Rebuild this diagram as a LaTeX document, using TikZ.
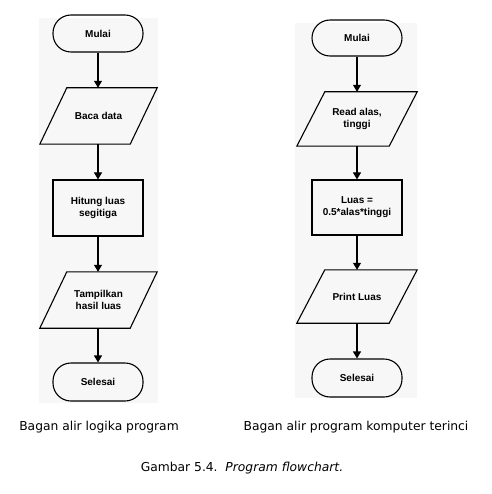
\documentclass[tikz,border=0pt]{standalone}
\usepackage{fontspec}
\setmainfont{Liberation Sans}
\newfontfamily\capfont{DejaVu Sans}
\usetikzlibrary{arrows.meta}
\begin{document}
\begin{tikzpicture}[x=1pt,y=-1pt,
  line/.style={line width=1.1pt},
  arr/.style={line width=1.1pt,-{Triangle[length=7pt,width=8pt]}},
  term/.style={draw,line width=1.1pt,rounded corners=18pt,minimum width=90pt,inner sep=0pt,align=center,font=\fontsize{10}{12}\selectfont\bfseries},
  proc/.style={draw,line width=1.1pt,minimum width=90pt,inner sep=0pt,align=center,font=\fontsize{10}{12}\selectfont\bfseries},
  io/.style={inner sep=0pt,align=center,font=\fontsize{10}{12}\selectfont\bfseries},
  lbl/.style={font=\capfont\fontsize{12.3}{14}\selectfont},
  bg/.style={fill=black!3,draw=none}]
\useasboundingbox (0,0) rectangle (491,494);
% background panels
\fill[bg] (39,18) rectangle (158,403);
\fill[bg] (295,23) rectangle (417,398);
% left flowchart
\node[term,minimum height=37pt] (l1) at (98,33.5) {Mulai};
\node[io,minimum width=117pt,minimum height=56pt] (l2) at (98.5,116) {Baca data};
\node[proc,minimum height=56pt] (l3) at (98,208) {Hitung luas\\segitiga};
\node[io,minimum width=117pt,minimum height=56pt] (l4) at (98.5,300) {Tampilkan\\hasil luas};
\node[term,minimum height=38pt] (l5) at (98,382) {Selesai};
\draw[line] ([xshift=27pt]l2.north west) -- (l2.north east) -- ([xshift=-27pt]l2.south east) -- (l2.south west) -- cycle;
\draw[line] ([xshift=27pt]l4.north west) -- (l4.north east) -- ([xshift=-27pt]l4.south east) -- (l4.south west) -- cycle;
\draw[arr] (l1.south) -- (l2.north -| l1.south);
\draw[arr] (l2.south -| l1.south) -- (l3.north);
\draw[arr] (l3.south) -- (l4.north -| l3.south);
\draw[arr] (l4.south -| l3.south) -- (l5.north);
% right flowchart
\node[term,minimum height=36pt] (r1) at (357,38) {Mulai};
\node[io,minimum width=120pt,minimum height=54pt] (r2) at (357,119) {Read alas,\\tinggi};
\node[proc,minimum height=55pt] (r3) at (357,207.5) {Luas =\\0.5*alas*tinggi};
\node[io,minimum width=120pt,minimum height=53pt] (r4) at (357,296.5) {Print Luas};
\node[term,minimum height=38pt] (r5) at (357,378) {Selesai};
\draw[line] ([xshift=28pt]r2.north west) -- (r2.north east) -- ([xshift=-28pt]r2.south east) -- (r2.south west) -- cycle;
\draw[line] ([xshift=28pt]r4.north west) -- (r4.north east) -- ([xshift=-28pt]r4.south east) -- (r4.south west) -- cycle;
\draw[arr] (r1.south) -- (r2.north -| r1.south);
\draw[arr] (r2.south -| r1.south) -- (r3.north);
\draw[arr] (r3.south) -- (r4.north -| r3.south);
\draw[arr] (r4.south -| r3.south) -- (r5.north);
% labels
\node[lbl] (t1) at (99,427) {Bagan alir logika program};
\node[lbl] (t2) at (356,427) {Bagan alir program komputer terinci};
\node[font=\capfont\fontsize{12.3}{14}\selectfont] (cap) at (242,468) {Gambar 5.4.\ \ \textit{Program flowchart.}};
\end{tikzpicture}
\end{document}
